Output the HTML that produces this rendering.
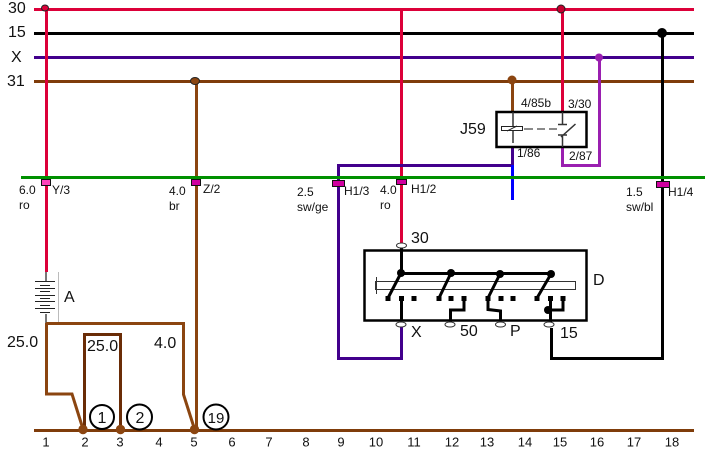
<!DOCTYPE html>
<html><head><meta charset="utf-8"><style>
html,body{margin:0;padding:0;background:#fff;width:705px;height:464px;overflow:hidden}
svg{display:block}
text{font-family:"Liberation Sans",sans-serif;fill:#111}
.s{font-size:12px}.n{font-size:13px}.l{font-size:16px}
</style></head><body>
<svg width="705" height="464" viewBox="0 0 705 464" fill="none">
<!-- buses -->
<path d="M34 9.5H694" stroke="#dc0039" stroke-width="3"/>
<path d="M34 33.5H694" stroke="#000" stroke-width="3"/>
<path d="M34 57.5H694" stroke="#42008c" stroke-width="3"/>
<path d="M34 81.5H694" stroke="#7f3c0a" stroke-width="3"/>
<!-- verticals -->
<path d="M46.5 9V272" stroke="#dc0039" stroke-width="3"/>
<path d="M196.5 81V430" stroke="#8b4510" stroke-width="3"/>
<path d="M401.5 9V245" stroke="#dc0039" stroke-width="3"/>
<path d="M512.5 81V112" stroke="#8b4510" stroke-width="3"/>
<path d="M562.5 9V112" stroke="#dc0039" stroke-width="3"/>
<path d="M599.5 57V165.5H562.500V147" stroke="#9a1fb0" stroke-width="3"/>
<path d="M662.5 33V358.5H551.500V328" stroke="#000" stroke-width="3"/>
<path d="M338.500 184V165.500H512.500V147" stroke="#42008c" stroke-width="3"/>
<path d="M512.500 165V200" stroke="#0000ff" stroke-width="3"/>
<path d="M338.500 184V358.500H401.500V326" stroke="#42008c" stroke-width="3"/>
<!-- green -->
<path d="M21 177.500H705" stroke="#009000" stroke-width="3"/>
<!-- dots -->
<ellipse cx="45" cy="8" rx="3.500" ry="3" fill="#dc0039" stroke="#222" stroke-width="1"/>
<ellipse cx="195" cy="81" rx="4.500" ry="3.500" fill="#8b4510" stroke="#222" stroke-width="1"/>
<circle cx="512" cy="80" r="4.500" fill="#8b4510"/>
<circle cx="561" cy="9" r="4" fill="#c4002f" stroke="#222" stroke-width="1"/>
<circle cx="599" cy="57.500" r="4" fill="#9a1fb0"/>
<circle cx="662" cy="33" r="5" fill="#000"/>
<!-- connectors -->
<rect x="41.500" y="179.500" width="9" height="6" fill="#ff44bb" stroke="#111"/>
<rect x="191.500" y="179.500" width="9" height="6" fill="#d000a0" stroke="#111"/>
<rect x="332.500" y="180.500" width="12" height="6" fill="#d000a0" stroke="#111"/>
<rect x="396.500" y="179.500" width="10" height="5" fill="#d000a0" stroke="#111"/>
<rect x="656.500" y="181.500" width="13" height="6" fill="#d000a0" stroke="#111"/>
<!-- battery -->
<path d="M46 272V281M46 314V323" stroke="#777" stroke-width="2"/>
<path d="M58.500 272V323" stroke="#bbb"/>
<path d="M35 281.500H55M35 288.500H55M35 295.500H55M35 301.500H55M35 308.500H55" stroke="#222"/>
<path d="M40 285.500H50M40 291.500H50M40 298.500H50M40 305.500H50M40 312.500H50" stroke="#222"/>
<!-- ground wires -->
<path d="M46.500 323V394H72L83 429" stroke="#8b4510" stroke-width="3"/>
<path d="M46 323.500H183.500V394.500L194.500 429" stroke="#8b4510" stroke-width="3"/>
<path d="M84.500 429V334.500H120.500V429" stroke="#6a2c06" stroke-width="3"/>
<path d="M34 430.500H694" stroke="#7f3c0a" stroke-width="3"/>
<circle cx="83" cy="429.500" r="4.700" fill="#8b4510"/>
<circle cx="120.500" cy="429.500" r="4.700" fill="#8b4510"/>
<circle cx="194.500" cy="429.500" r="4.700" fill="#8b4510"/>
<circle cx="102" cy="417" r="12" stroke="#000" stroke-width="2" fill="#fff"/>
<circle cx="139.500" cy="417" r="12.500" stroke="#000" stroke-width="2" fill="#fff"/>
<circle cx="216" cy="417" r="12.500" stroke="#000" stroke-width="2" fill="#fff"/>
<!-- relay -->
<rect x="496.500" y="112" width="90" height="35" stroke="#000" stroke-width="2.500" fill="#fff"/>
<path d="M513 112V143" stroke="#333" stroke-width="1.500"/>
<rect x="501.500" y="126.500" width="21" height="4" stroke="#222" fill="#fff"/>
<path d="M507 131L517 126" stroke="#222"/>
<path d="M524 129H533M537 129H545M549 129H557" stroke="#444" stroke-width="1.200"/>
<path d="M562.500 112V124.500M558 124.500H567M562.500 135V147M558 135H567M561 137L575.500 124" stroke="#333" stroke-width="1.500"/>
<!-- switch -->
<rect x="364.500" y="250.500" width="222" height="70" stroke="#000" stroke-width="2.500" fill="#fff"/>
<rect x="375.500" y="281.500" width="200" height="8" stroke="#333" fill="#fff"/>
<path d="M376.500 277V294" stroke="#333"/>
<path d="M401.500 247V273" stroke="#000" stroke-width="3"/>
<path d="M401 273.500H551" stroke="#000" stroke-width="3"/>
<path d="M401 273L388 298M451 273L439 298M500 274L488 298V309.500L500.500 311V321M551 274L537 298" stroke="#000" stroke-width="3"/>
<circle cx="401" cy="273" r="4" fill="#000"/><circle cx="451" cy="273" r="4" fill="#000"/><circle cx="500" cy="274" r="4" fill="#000"/><circle cx="551" cy="274" r="4" fill="#000"/>
<path d="M385.500 296h5v5h-5zM399 296h5v5h-5zM411.500 296h5v5h-5zM436.500 296h5v5h-5zM448.500 296h5v5h-5zM461.500 296h5v5h-5zM485.500 296h5v5h-5zM498.500 296h5v5h-5zM510.500 296h5v5h-5zM534.500 296h5v5h-5zM548 296h5v5h-5zM560.500 296h5v5h-5z" fill="#000"/>
<path d="M401.500 300V321" stroke="#000" stroke-width="3"/>
<path d="M464 300V310H450.500V322" stroke="#000" stroke-width="3"/>
<path d="M550.500 300V322M563 300V310H551" stroke="#000" stroke-width="3"/>
<circle cx="548" cy="310" r="4" fill="#000"/>
<ellipse cx="401.500" cy="245.500" rx="5" ry="2.500" stroke="#333" fill="#fff"/>
<ellipse cx="401" cy="324.500" rx="5" ry="2.500" stroke="#333" fill="#fff"/>
<ellipse cx="450" cy="324.500" rx="5" ry="2.500" stroke="#333" fill="#fff"/>
<ellipse cx="500.500" cy="324.500" rx="5" ry="2.500" stroke="#333" fill="#fff"/>
<ellipse cx="549" cy="324.500" rx="5" ry="2.500" stroke="#333" fill="#fff"/>
<!-- labels -->
<text x="8" y="13" class="l">30</text><text x="8" y="37" class="l">15</text><text x="11" y="62" class="l">X</text><text x="7" y="86" class="l">31</text>
<text x="64" y="302" class="l">A</text><text x="7" y="347" class="l">25.0</text><text x="87" y="351" class="l">25.0</text><text x="154" y="348" class="l">4.0</text>
<text x="411" y="243" class="l">30</text><text x="593" y="285" class="l">D</text><text x="411" y="337" class="l">X</text><text x="460" y="336" class="l">50</text><text x="510" y="336" class="l">P</text><text x="560" y="338" class="l">15</text>
<text x="460" y="134" class="l">J59</text>
<text x="19" y="194" class="s">6.0</text><text x="19" y="209" class="s">ro</text><text x="52" y="194" class="s">Y/3</text>
<text x="169" y="195" class="s">4.0</text><text x="169" y="210" class="s">br</text><text x="203" y="193" class="s">Z/2</text>
<text x="297" y="196" class="s">2.5</text><text x="297" y="211" class="s">sw/ge</text><text x="344" y="195" class="s">H1/3</text>
<text x="380" y="194" class="s">4.0</text><text x="380" y="209" class="s">ro</text><text x="411" y="193" class="s">H1/2</text>
<text x="626" y="196" class="s">1.5</text><text x="626" y="211" class="s">sw/bl</text><text x="668" y="196" class="s">H1/4</text>
<text x="521" y="107" class="s">4/85b</text><text x="568" y="108" class="s">3/30</text><text x="517" y="157" class="s">1/86</text><text x="569" y="160" class="s">2/87</text>
<g text-anchor="middle">
<text x="102" y="423" class="l">1</text><text x="140" y="423" class="l">2</text><text x="216" y="423" style="font-size:15px">19</text>
</g>
<g class="n" text-anchor="middle">
<text x="46" y="446.500">1</text><text x="85" y="446.500">2</text><text x="120" y="446.500">3</text><text x="159" y="446.500">4</text><text x="194" y="446.500">5</text><text x="232" y="446.500">6</text><text x="269" y="446.500">7</text><text x="306" y="446.500">8</text><text x="341" y="446.500">9</text><text x="376" y="446.500">10</text><text x="414" y="446.500">11</text><text x="452" y="446.500">12</text><text x="487" y="446.500">13</text><text x="525" y="446.500">14</text><text x="560" y="446.500">15</text><text x="597" y="446.500">16</text><text x="634" y="446.500">17</text><text x="672" y="446.500">18</text>
</g>
</svg>
</body></html>
